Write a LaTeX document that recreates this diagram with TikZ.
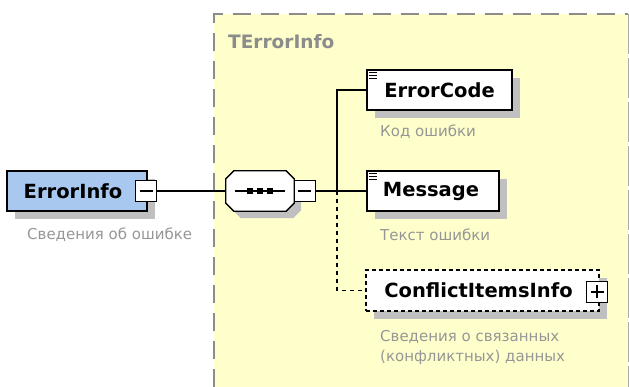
\documentclass[tikz,border=0pt]{standalone}
\usepackage{fontspec}
\setmainfont{DejaVu Sans}
\usetikzlibrary{shadows}
\definecolor{typebg}{RGB}{255,255,204}
\definecolor{elblue}{RGB}{168,200,240}
\definecolor{shadowgray}{RGB}{192,192,192}
\definecolor{desccol}{RGB}{150,150,150}
\definecolor{bordergray}{RGB}{140,140,140}
\definecolor{borderlight}{RGB}{170,170,170}
\begin{document}
\begin{tikzpicture}[x=1pt,y=-1pt,
  boxshadow/.style={general shadow={fill=shadowgray, draw=none, shadow xshift=8pt, shadow yshift=-8pt}},
  elem/.style={draw=black, line width=1.6pt, fill=white, minimum height=40pt, inner sep=0pt,
    font=\fontsize{19.5}{23}\selectfont\bfseries, boxshadow},
  toggle/.style={draw=black, line width=1pt, fill=white, minimum size=21pt, inner sep=0pt,
    path picture={\draw[line width=1.1pt] ([xshift=4pt]path picture bounding box.west) -- ([xshift=-4pt]path picture bounding box.east);}},
  conn/.style={draw=black, line width=1.3pt},
  dconn/.style={conn, dash pattern=on 4pt off 4pt},
  desc/.style={text=desccol, font=\fontsize{15}{20}\selectfont, inner sep=0pt, anchor=west, align=left},
  icon/.style={line width=1pt}
]
\useasboundingbox (0,0) rectangle (629,387);
% type container
\node[fill=typebg, inner sep=0pt, minimum width=414pt, minimum height=373pt, anchor=north west] (tbox) at (214,14) {};
\draw[bordergray, line width=2pt, dash pattern=on 18pt off 10pt] (tbox.south west) -- (tbox.north west) -- (tbox.north east);
\draw[borderlight, line width=1pt, dash pattern=on 40pt off 4pt] (tbox.north east) -- (tbox.south east);
\node[font=\fontsize{18.5}{22}\selectfont\bfseries, text=bordergray, anchor=west, inner sep=0pt] (tname) at (228,42) {TErrorInfo};

% root element
\node[elem, fill=elblue, minimum width=140pt] (errorinfo) at (77,191) {ErrorInfo\hspace*{8pt}};
\node[toggle] (eimin) at (146,191) {};
\node[desc] (eidesc) at (27,235) {Сведения об ошибке};

% sequence compositor (octagon)
\node[inner sep=0pt, minimum width=68pt, minimum height=40pt] (seq) at (260,191) {};
\fill[shadowgray, transform canvas={shift={(7pt,-7pt)}}]
  ([xshift=8pt]seq.north west) -- ([xshift=-8pt]seq.north east) -- ([yshift=-8pt]seq.north east)
  -- ([yshift=8pt]seq.south east) -- ([xshift=-8pt]seq.south east) -- ([xshift=8pt]seq.south west)
  -- ([yshift=8pt]seq.south west) -- ([yshift=-8pt]seq.north west) -- cycle;
\filldraw[fill=white, draw=black, line width=1.3pt]
  ([xshift=8pt]seq.north west) -- ([xshift=-8pt]seq.north east) -- ([yshift=-8pt]seq.north east)
  -- ([yshift=8pt]seq.south east) -- ([xshift=-8pt]seq.south east) -- ([xshift=8pt]seq.south west)
  -- ([yshift=8pt]seq.south west) -- ([yshift=-8pt]seq.north west) -- cycle;
\draw[line width=1.2pt] ([xshift=-25pt]seq.center) -- ([xshift=25pt]seq.center);
\foreach \dx in {-10,0,10}
  \fill ([shift={(\dx-3,-3)}]seq.center) rectangle ([shift={(\dx+3,3)}]seq.center);
\node[toggle] (seqmin) at (304.5,191) {};
\coordinate (trunk) at (337,191);

% children
\node[elem, minimum width=145pt] (errorcode) at (439.5,90) {ErrorCode};
\foreach \dy in {3,6,9}
  \draw[icon] ([shift={(3,\dy)}]errorcode.north west) -- ++(8,0);
\node[desc] (ecdesc) at (380,132) {Код ошибки};

\node[elem, minimum width=132pt] (message) at (433,191) {Message\hspace*{4pt}};
\foreach \dy in {3,6,9}
  \draw[icon] ([shift={(3,\dy)}]message.north west) -- ++(8,0);
\node[desc] (msgdesc) at (380,235) {Текст ошибки};

\node[elem, dash pattern=on 4pt off 3pt, line width=1.3pt, minimum width=233pt, minimum height=41pt] (conflict) at (482.5,290.5) {ConflictItemsInfo\hspace*{8pt}};
\node[toggle, path picture={\draw[line width=1.1pt] ([xshift=4pt]path picture bounding box.west) -- ([xshift=-4pt]path picture bounding box.east);
  \draw[line width=1.1pt] ([yshift=4pt]path picture bounding box.south) -- ([yshift=-4pt]path picture bounding box.north);}] (cfplus) at (597,292) {};
\node[desc] (cfdesc) at (380,347) {Сведения о связанных\\(конфликтных) данных};

% connectors
\draw[conn] (eimin.east) -- (seq.west);
\draw[conn] (seqmin.east) -- (message.west);
\draw[conn] (trunk) |- (errorcode.west);
\draw[dconn] (trunk) |- (conflict.west);
\end{tikzpicture}
\end{document}
